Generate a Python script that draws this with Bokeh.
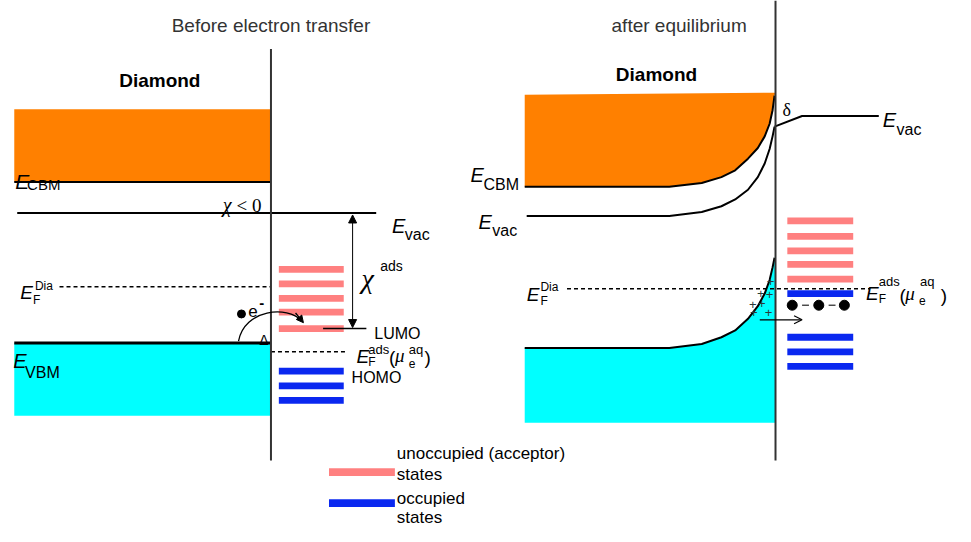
from bokeh.plotting import figure
from bokeh.models import Range1d, Arrow, NormalHead, OpenHead
from bokeh.core.properties import value
from bokeh.embed import file_html
from bokeh.resources import INLINE

SANS = "Liberation Sans"
SERIF = "Liberation Serif"
ORANGE = "#ff8000"
CYAN = "#00ffff"
PINK = "#ff8080"
BLUE = "#0a28f0"

# ---------------- data: energy levels (diagram units) ----------------
# Before electron transfer
L_iface = 275
L_x0 = 14
L_cb_top = 112
L_cbm = 187
L_vac = 219
L_vac_end = 382
L_ef_dia = 295
L_vbm = 353
L_vb_bottom = 428
L_ef_ads = 362
L_lumo = 338
L_unocc = [277, 292, 307, 321, 338]
L_occ = [382, 397, 412]
L_states_x = [283, 349]

# After equilibrium
R_iface = 788
R_x0 = 533
R_cb_top = [97, 95]
R_cbm_x = [533, 600, 680, 713, 733, 747, 760, 770, 777, 782, 785, 787]
R_cbm_y = [192, 192, 192, 188, 182, 175, 163, 152, 140, 127, 113, 98]
R_vacd_x = [535, 600, 680, 713, 733, 747, 760, 770, 777, 782, 785, 787]
R_vacd_y = [222, 222, 222, 218, 212, 205, 195, 182, 168, 153, 140, 130]
R_vaca_x = [787, 815, 893]
R_vaca_y = [130, 119, 119]
R_vbm_x = [533, 600, 680, 713, 733, 747, 760, 770, 777, 782, 785, 787]
R_vbm_y = [358, 358, 358, 354, 347, 340, 328, 315, 302, 288, 275, 265]
R_vb_bottom = 435
R_ef = 297
R_unocc = [227, 243, 258, 272, 287]
R_occ = [302, 347, 362, 377]
R_states_x = [800, 867]
R_dots_x = [805, 832, 858]
R_dots_y = [314, 314, 314]
R_plus_x = [783, 773, 782, 765, 774, 781, 766]
R_plus_y = [290, 302, 303, 313, 312, 322, 322]

# legend
LEG_x = [334, 401]
LEG_y = [486, 518]
LEG_text = ["unoccupied (acceptor)", "states", "occupied", "states"]
LEG_text_y = [467, 488, 513, 533]

p = figure(width=955, height=526, x_range=Range1d(0, 971), y_range=Range1d(542, 0),
           output_backend="svg", toolbar_location=None, min_border=0,
           x_axis_location=None, y_axis_location=None)
p.grid.visible = False
p.outline_line_color = None
p.background_fill_color = "white"


def put(x, y, s, size, style="normal", font=SANS, align="left", color="black"):
    p.text(x=[x], y=[y], text=[s], text_font=value(font), text_font_size=value(f"{size}px"),
           text_font_style=style, text_align=align, text_baseline="alphabetic", text_color=color)


def hline(x0, x1, y, w=2, dash="solid", color="black"):
    p.line([x0, x1], [y, y], line_width=w, line_color=color, line_dash=dash)


def states(xr, ys, color, h=7):
    p.hbar(y=ys, left=xr[0], right=xr[1], height=h, fill_color=color, line_color=None)


# ---------------- LEFT PANEL ----------------
p.quad(left=L_x0, right=L_iface, top=L_cb_top, bottom=L_cbm, fill_color=ORANGE, line_color=None)
p.quad(left=L_x0, right=L_iface, top=L_vbm, bottom=L_vb_bottom, fill_color=CYAN, line_color=None)
hline(L_x0, L_iface, L_cbm, 2)
hline(L_x0 + 3, L_vac_end, L_vac, 2)
hline(L_x0, L_iface, L_vbm, 3)
hline(60, L_iface, L_ef_dia, 1.5, "4 3")
hline(L_iface, 352, L_ef_ads, 1.5, "4 3")
states(L_states_x, L_unocc, PINK)
states(L_states_x, L_occ, BLUE)
hline(328, 372, L_lumo, 1.5)
p.line([L_iface, L_iface], [50, 474], line_width=2, line_color="#333333")

# chi_ads double arrow
p.add_layout(Arrow(start=NormalHead(size=8, fill_color="black", line_color="black"),
                   end=NormalHead(size=8, fill_color="black", line_color="black"),
                   x_start=358, y_start=L_vac + 2, x_end=358, y_end=L_lumo - 1,
                   line_width=1, line_color="black"))
# electron transfer arc
p.bezier(x0=[242], y0=[L_vbm - 2], x1=[306], y1=[330], cx0=[248], cy0=[318], cx1=[292], cy1=[314],
         line_color="black", line_width=1.3)
p.add_layout(Arrow(end=NormalHead(size=7, fill_color="black", line_color="black"),
                   x_start=300, y_start=322, x_end=308, y_end=332, line_width=1.3, line_color="black"))
p.scatter(x=[245], y=[323], size=8, fill_color="black", line_color="black")

put(275, 26, "Before electron transfer", 19, color="#333333", align="center")
put(162, 82, "Diamond", 19, "bold", align="center")
put(15, 186, "E", 21, "italic")
put(27, 190, "CBM", 15)
put(226, 211, "\u03c7", 20, "italic", SERIF)
put(240, 211, "< 0", 19, font=SERIF)
put(398, 232, "E", 20, "italic")
put(411, 241, "vac", 16)
put(367, 286, "\u03c7", 28, "italic", SERIF)
put(386, 274, "ads", 14)
put(20, 301, "E", 19, "italic")
put(33, 309, "F", 12)
put(35, 294, "Dia", 12)
put(252, 320, "e", 17)
put(263, 312, "-", 15, "bold")
put(263, 350, "\u0394", 14)
put(380, 343, "LUMO", 16)
put(362, 367, "E", 19, "italic")
put(374, 373, "F", 12)
put(374, 360, "ads", 13)
put(395, 368, "(", 19)
put(401, 366, "\u03bc", 19, "italic", SERIF)
put(415, 374, "e", 12)
put(415, 360, "aq", 13)
put(431, 368, ")", 19)
put(357, 388, "HOMO", 16)
put(13, 371, "E", 20, "italic")
put(25, 383, "VBM", 16)

# ---------------- RIGHT PANEL ----------------
p.patch(x=R_cbm_x + [R_iface, R_x0], y=R_cbm_y + [R_cb_top[1], R_cb_top[0]],
        fill_color=ORANGE, line_color=None)
p.patch(x=R_vbm_x + [R_iface, R_iface, R_x0], y=R_vbm_y + [R_vbm_y[-1], R_vb_bottom, R_vb_bottom],
        fill_color=CYAN, line_color=None)
p.line(R_cbm_x, R_cbm_y, line_width=2, line_color="black")
p.line(R_vacd_x, R_vacd_y, line_width=2, line_color="black")
p.line(R_vaca_x, R_vaca_y, line_width=2, line_color="black")
p.line(R_vbm_x, R_vbm_y, line_width=2, line_color="black")
hline(576, 884, R_ef, 1.5, "4 3")
states(R_states_x, R_unocc, PINK)
states(R_states_x, R_occ, BLUE)
p.line([R_iface, R_iface], [0, 474], line_width=2, line_color="#333333")
p.scatter(x=R_dots_x, y=R_dots_y, size=10, fill_color="black", line_color="black")
p.segment(x0=[815, 842], y0=[314, 314], x1=[822, 849], y1=[314, 314], line_color="#333333", line_width=1.3)
p.text(x=R_plus_x, y=R_plus_y, text=["+"] * len(R_plus_x), text_font=value(SANS),
       text_font_size=value("13px"), text_align="center", text_baseline="middle", text_color="#2a3a3a")
p.add_layout(Arrow(end=OpenHead(size=8, line_color="black", line_width=1.2),
                   x_start=772, y_start=329, x_end=815, y_end=329, line_width=1.2, line_color="black"))

put(690, 26, "after equilibrium", 19, color="#333333", align="center")
put(667, 76, "Diamond", 19, "bold", align="center")
put(478, 180, "E", 20, "italic")
put(491, 190, "CBM", 16)
put(486, 228, "E", 20, "italic")
put(500, 237, "vac", 16)
put(795, 113, "\u03b4", 18, font=SERIF)
put(897, 123, "E", 20, "italic")
put(911, 133, "vac", 16)
put(535, 303, "E", 19, "italic")
put(549, 310, "F", 12)
put(549, 295, "Dia", 12)
put(880, 302, "E", 19, "italic")
put(893, 308, "F", 12)
put(893, 290, "ads", 13)
put(914, 304, "(", 19)
put(920, 302, "\u03bc", 19, "italic", SERIF)
put(934, 309, "e", 12)
put(935, 290, "aq", 13)
put(956, 304, ")", 19)

# ---------------- LEGEND ----------------
p.hbar(y=[LEG_y[0]], left=LEG_x[0], right=LEG_x[1], height=8, fill_color=PINK, line_color=None)
p.hbar(y=[LEG_y[1]], left=LEG_x[0], right=LEG_x[1], height=8, fill_color=BLUE, line_color=None)
for t, ty in zip(LEG_text, LEG_text_y):
    put(403, ty, t, 17)

open("out.html", "w").write(file_html(p, INLINE))
